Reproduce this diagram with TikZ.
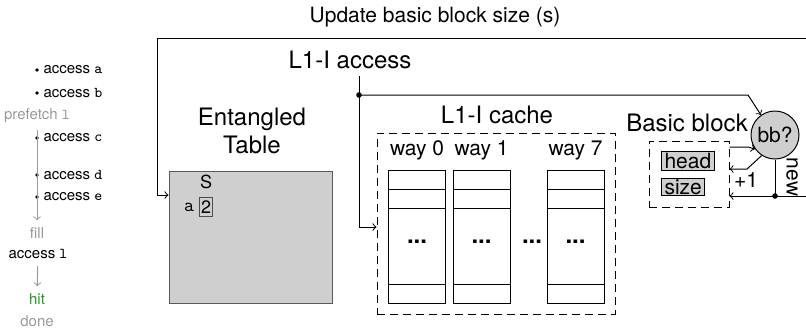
\documentclass[tikz,border=0pt]{standalone}
\usepackage{fontspec}
\setmainfont{TeX Gyre Heros}
\definecolor{boxgray}{HTML}{CFCFCF}
\definecolor{txtgray}{HTML}{999999}
\definecolor{hitgreen}{HTML}{1E9E1E}
\tikzset{
	big/.style={font=\fontsize{12}{14}\selectfont},
	mid/.style={font=\fontsize{10.5}{12}\selectfont},
	small/.style={font=\fontsize{7.5}{9}\selectfont},
	dashbox/.style={draw, dash pattern=on 4pt off 2.5pt, inner sep=0pt},
	tagbox/.style={draw, fill=boxgray, inner xsep=1.5pt, inner ysep=0.6pt, anchor=west, mid},
}

\begin{document}
\begin{tikzpicture}[x=0.5pt, y=-0.5pt, line width=0.5pt]
			\useasboundingbox (0,0) rectangle (806,328);
			\node[mid] (upd) at (435,17) {Update basic block size (s)};
			\coordinate (rtop) at (806,38);
			\coordinate (rbot) at (806,196);
			\coordinate (corner) at (157,38);
			\node[big] (acc) at (350,60) {L1-I access};
			\coordinate (acctop) at (359,76);
			\coordinate (accdot) at (359,95);
			\node[big, align=center] (ettitle) at (252,131) {Entangled\\Table};
			\node[draw=black!65, fill=boxgray, minimum width=81.5pt, minimum height=66pt, inner sep=0pt] (etable) at (250.5,237) {};
			\node[font=\fontsize{9}{10}\selectfont] (scol) at (206,182) {S};
			\node[font=\fontsize{9.5}{10}\selectfont\ttfamily] (arow) at (189,207) {a};
			\node[draw=black!70, fill=boxgray, font=\fontsize{9}{10}\selectfont, inner xsep=0.7pt, inner ysep=1.6pt] (cnt) at (206,207) {2};
			\node[big] (cachelbl) at (497,115) {L1-I cache};
			\node[dashbox, minimum width=119pt, minimum height=90.5pt] (cache) at (496,223.5) {};
			\foreach \x/\w in {417/0, 481.5/1, 575.5/7} {
				\node[mid] (way\w) at (\x,150) {way \w};
				\draw (\x-28.5,170) rectangle (\x+28.5,303);
				\foreach \y in {189,208,284}
					\draw (\x-28.5,\y) -- (\x+28.5,\y);
				\node[big] (dots\w) at (\x,242) {\textbf{...}};
			}
			\node[big] (gapdots) at (532,242) {\textbf{...}};
			\node[big] (bblbl) at (687,123) {Basic block};
			\node[dashbox, minimum width=40pt, minimum height=33pt] (bbx) at (689,174) {};
			\node[tagbox] (head) at (661,161) {head};
			\node[tagbox] (size) at (661,187) {size};
			\node[circle, draw, fill=boxgray, minimum size=24pt, inner sep=0pt, mid] (bb) at (775,135) {bb?};
			\coordinate (ndot) at (775,196);
			\node[mid, rotate=-90] (new) at (792,177) {new};
			\node[mid] (plus) at (746,180) {+1};
			\draw[->] (rtop) -- (corner) |- (etable.west |- 0,195);
			\draw[->] (acctop) |- (cache.west |- 0,227);
			\fill (accdot) circle (1.4pt);
			\draw[->] (accdot) -- (748,95) -- (bb.125);
			\draw[->] (bbx.east |- 0,147) -- (748,147) -- (bb.215);
			\draw[->] (bb.237) -- (747,169) -- (bbx.east |- 0,169);
			\draw (bb.south) -- (ndot);
			\draw[->] (rbot) -- (bbx.east |- 0,196);
			\fill (ndot) circle (1.4pt);
			\foreach \y/\n in {70/a, 93/b, 138/c, 175/d, 197/e} {
				\fill (37,\y) circle (0.9pt);
				\node[small, anchor=west, inner sep=1pt] (acc\n) at (41,\y) {access \texttt{\n}};
			}
			\node[small, text=txtgray] (pref) at (37,116) {prefetch \texttt{l}};
			\node[small, text=txtgray] (fill) at (37,233) {fill};
			\node[small] (accl) at (38,254) {access \texttt{l}};
			\node[small, text=hitgreen] (hit) at (37,299) {hit};
			\node[small, text=txtgray, inner sep=1pt] (done) at (37,321) {done};
			\draw[txtgray, ->] (pref) -- (fill);
			\draw[txtgray, ->] (accl) -- (hit);
		\end{tikzpicture}
\end{document}
